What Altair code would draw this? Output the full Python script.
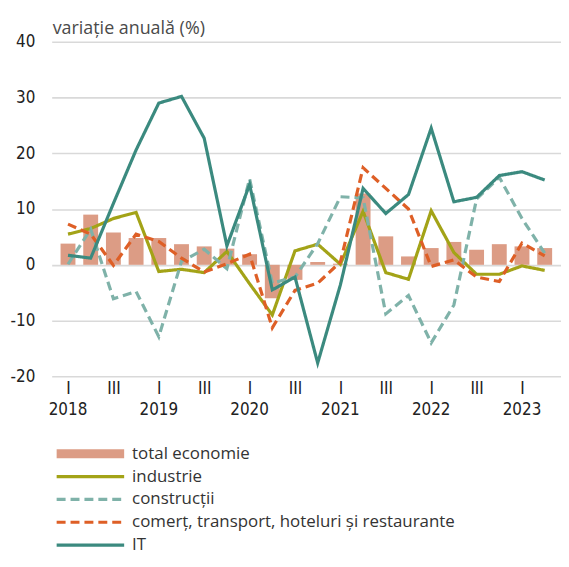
import altair as alt
import pandas as pd

# ---- data ----
quarter_names = ["I", "II", "III", "IV"]
years = [2018, 2019, 2020, 2021, 2022, 2023]
n_q = 22  # 2018 Q1 .. 2023 Q2

total_economie = [3.8, 9.0, 5.8, 4.8, 4.8, 3.7, 3.3, 2.9, 1.9, -6.0, -2.7, 0.5,
                  0.2, 12.8, 5.1, 1.5, 3.0, 4.1, 2.7, 3.7, 3.3, 3.0]
industrie = [5.5, 6.5, 8.3, 9.4, -1.2, -0.8, -1.4, 2.4, -3.4, -9.0, 2.5, 3.7,
             0.1, 9.6, -1.4, -2.6, 9.7, 2.2, -1.7, -1.7, -0.2, -1.0]
constructii = [0.1, 6.4, -6.1, -4.8, -12.9, 0.6, 2.8, -0.7, 15.4, -3.3, -2.2, 3.8,
               12.2, 12.0, -8.8, -5.5, -14.0, -7.2, 11.8, 15.7, 8.3, 2.1]
comert = [7.3, 5.5, -0.1, 5.5, 4.2, 1.2, -1.3, 0.2, 1.9, -11.3, -4.6, -3.3,
          0.5, 17.4, 13.7, 10.0, -0.3, 0.9, -2.2, -3.0, 3.9, 1.6]
it = [1.7, 1.2, 11.0, 20.6, 29.0, 30.2, 22.7, 3.4, 14.4, -4.5, -2.2, -17.6,
      -3.6, 13.7, 9.2, 12.6, 24.5, 11.3, 12.1, 16.0, 16.7, 15.2]

series_names = ["total economie", "industrie", "construcții",
                "comerț, transport, hoteluri și restaurante", "IT"]
series_colors = ["#dc9c85", "#a3a317", "#7fb2a9", "#de5f26", "#3b8a7f"]
series_dash = [[1, 0], [1, 0], [9, 5], [9, 5], [1, 0]]

title_text = "variație anuală (%)"

FONT_NUM = "Liberation Sans Narrow, DejaVu Sans Condensed, sans-serif"
FONT_TXT = "Open Sans, Noto Sans, sans-serif"

q_index = list(range(n_q))
df = pd.DataFrame({
    "q": q_index,
    "total": total_economie,
    "industrie": industrie,
    "constructii": constructii,
    "comert": comert,
    "it": it,
})

x_enc = alt.X(
    "q:Q",
    scale=alt.Scale(domain=[-0.5, n_q - 0.5], nice=False, zero=False),
    axis=alt.Axis(
        values=list(range(0, n_q, 2)),
        labelExpr="datum.value % 4 == 0 ? 'I' : 'III'",
        grid=False, ticks=False, domain=False, title=None,
        labelFont=FONT_NUM, labelFontSize=17, labelColor="#222222",
        labelPadding=4,
    ),
)


def y_enc(field):
    return alt.Y(
        f"{field}:Q",
        scale=alt.Scale(domain=[-20, 40], nice=False),
        axis=alt.Axis(
            values=[-20, -10, 0, 10, 20, 30, 40],
            labelExpr="'' + datum.value",
            grid=True, gridColor="#d9d9d9", gridWidth=1.6,
            ticks=False, domain=False, title=None,
            labelFont=FONT_NUM, labelFontSize=17, labelColor="#222222",
            labelPadding=17,
        ),
    )


base = alt.Chart(df)

bars = base.mark_bar(width=15, color=series_colors[0]).encode(x=x_enc, y=y_enc("total"))

line_fields = ["industrie", "constructii", "comert", "it"]
lines = []
for i, f in enumerate(line_fields):
    lines.append(
        base.mark_line(color=series_colors[i + 1], strokeWidth=3.2,
                       strokeDash=series_dash[i + 1], strokeCap="butt")
        .encode(x=x_enc, y=y_enc(f))
    )

year_df = pd.DataFrame({"q": [4 * i for i in range(len(years))],
                        "year": [str(y) for y in years]})
year_text = alt.Chart(year_df).mark_text(
    font=FONT_NUM, fontSize=17, color="#222222", baseline="middle"
).encode(x=alt.X("q:Q"), y=alt.value(371), text="year:N")

title_mark = alt.Chart(pd.DataFrame({"t": [title_text]})).mark_text(
    font=FONT_TXT, fontSize=18, color="#4a4a4a", align="left", baseline="alphabetic"
).encode(x=alt.value(1), y=alt.value(-8), text="t:N")

main = alt.layer(bars, *lines, year_text, title_mark)

# ---- legend ----
leg_df = pd.DataFrame({"name": series_names, "idx": list(range(len(series_names)))})
leg_y = alt.Y("idx:Q",
              scale=alt.Scale(domain=[0, len(series_names) - 1], range=[415, 507],
                              nice=False, zero=False),
              axis=None)
leg_layers = []
for i, nm in enumerate(series_names):
    sub = alt.Chart(leg_df).transform_filter(alt.datum.idx == i)
    if i == 0:
        leg_layers.append(sub.mark_rule(color=series_colors[0], strokeWidth=9)
                          .encode(x=alt.value(5), x2=alt.value(73), y=leg_y))
    else:
        leg_layers.append(sub.mark_rule(color=series_colors[i], strokeWidth=3.2,
                                        strokeDash=series_dash[i], strokeCap="butt")
                          .encode(x=alt.value(5), x2=alt.value(73), y=leg_y))
leg_text = alt.Chart(leg_df).mark_text(
    font=FONT_TXT, fontSize=17, color="#333333", align="left", baseline="middle"
).encode(x=alt.value(81), y=leg_y, text="name:N")
legend = alt.layer(*leg_layers, leg_text)

chart = (
    alt.layer(main, legend)
    .resolve_scale(y="independent")
    .properties(
        width=513, height=337,
        autosize=alt.AutoSizeParams(type="none"),
        padding={"left": 44, "top": 32, "right": 0, "bottom": 182},
    )
    .configure_view(stroke=None)
)

chart.save("out.html", embed_options={"renderer": "svg", "actions": False})
